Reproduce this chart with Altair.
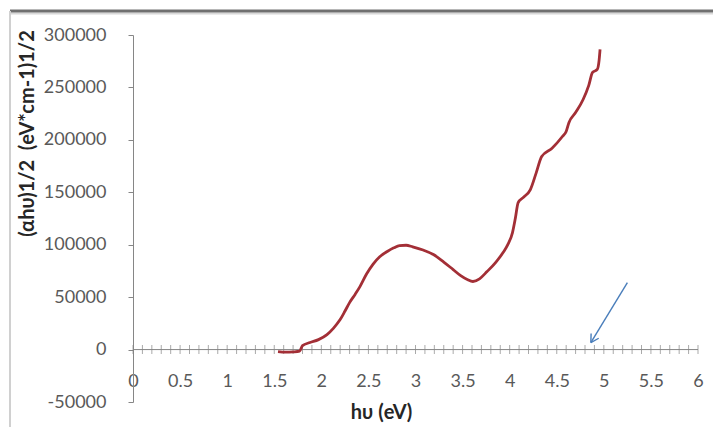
import altair as alt
import pandas as pd
import numpy as np

# Curve values
hv = [1.54, 1.62, 1.70, 1.77, 1.80, 1.88, 1.97, 2.06, 2.13, 2.20, 2.25, 2.30, 2.36, 2.41, 2.48, 2.55,
      2.62, 2.70, 2.77, 2.83, 2.90, 2.97, 3.08, 3.19, 3.30, 3.40, 3.48, 3.55, 3.61, 3.68, 3.76,
      3.85, 3.93, 3.98, 4.03, 4.06, 4.09, 4.15, 4.22, 4.28, 4.34, 4.45, 4.56, 4.60, 4.63, 4.70,
      4.78, 4.84, 4.88, 4.93, 4.95, 4.96]
ahv = [-2000, -2500, -2200, -1500, 3800, 6700, 9500, 14300, 20500, 28600, 36500, 44800, 52800, 60000,
       72000, 81500, 88500, 93500, 97000, 99200, 99500, 98000, 95000, 90600, 83500, 76300, 70500,
       66800, 64900, 67500, 74400, 83000, 92500, 100000, 111600, 125000, 140200, 145500, 152600,
       168000, 184100, 192000, 203200, 208000, 216600, 226000, 238500, 252000, 264300, 267100,
       276000, 286200]

y_ticks = [-50000, 0, 50000, 100000, 150000, 200000, 250000, 300000]
x_ticks = [0, 0.5, 1, 1.5, 2, 2.5, 3, 3.5, 4, 4.5, 5, 5.5, 6]
minor_ticks = [round(v, 1) for v in np.arange(0, 6.0001, 0.1)]

# Arrow annotation (start/end points)
arrow_x = [5.25, 4.862, 4.862]
arrow_y = [63900, 6700, 6700]
arrow_x2 = [4.862, 4.946, 4.865]
arrow_y2 = [6700, 10800, 15300]

FONT = "Lato"
GRAY = "#868686"

curve = pd.DataFrame({"hv": hv, "ahv": ahv})
ticks_df = pd.DataFrame({"x": minor_ticks, "y": [0] * len(minor_ticks)})
arrow_df = pd.DataFrame({"x": arrow_x, "y": arrow_y, "x2": arrow_x2, "y2": arrow_y2})

xscale = alt.Scale(domain=[0, 6], nice=False, zero=False)
yscale = alt.Scale(domain=[-50000, 300000], nice=False)

line = alt.Chart(curve).mark_line(color="#a32f36", strokeWidth=2.8, interpolate="monotone").encode(
    x=alt.X("hv:Q", scale=xscale,
            axis=alt.Axis(values=x_ticks, format="~g", title="hυ (eV)", grid=False, domain=False,
                          ticks=False, tickSize=0, offset=-30, labelPadding=0,
                          labelFont=FONT, labelFontSize=18, labelColor="#595959",
                          labelFlush=False, labelOverlap=False,
                          titleFont=FONT, titleFontSize=20, titleFontWeight="bold",
                          titleColor="#262626", titleX=248, titleY=40,
                          titleBaseline="middle", titleAlign="center")),
    y=alt.Y("ahv:Q", scale=yscale,
            axis=alt.Axis(values=y_ticks, format="d", title="(αhυ)1/2 \u00a0(eV*cm-1)1/2", grid=False,
                          labelExpr="replace(datum.label, '\u2212', '-')",
                          domainColor=GRAY, tickColor=GRAY, tickSize=5, labelPadding=22,
                          labelFont=FONT, labelFontSize=18, labelColor="#595959",
                          labelFlush=False, labelOverlap=False,
                          titleFont=FONT, titleFontSize=20, titleFontWeight="bold",
                          titleColor="#262626", titleAngle=270, titleX=-106, titleY=98,
                          titleAlign="center", titleBaseline="middle")),
)

zero_line = alt.Chart(pd.DataFrame({"x": [0], "x2": [6], "y": [0]})).mark_rule(
    color=GRAY, strokeWidth=1).encode(
    x=alt.X("x:Q", scale=xscale), x2="x2:Q", y=alt.Y("y:Q", scale=yscale))

tick_marks = alt.Chart(ticks_df).mark_tick(
    orient="vertical", color=GRAY, size=9, thickness=1).encode(
    x=alt.X("x:Q", scale=xscale), y=alt.Y("y:Q", scale=yscale))

arrow = alt.Chart(arrow_df).mark_rule(color="#4a7ebb", strokeWidth=1.4).encode(
    x=alt.X("x:Q", scale=xscale), y=alt.Y("y:Q", scale=yscale), x2="x2:Q", y2="y2:Q")

frame_top = alt.Chart(pd.DataFrame({"a": [0]})).mark_rule(
    color="#707070", strokeWidth=3).encode(
    x=alt.value(-123), x2=alt.value(585), y=alt.value(-24))
frame_shadow = alt.Chart(pd.DataFrame({"a": [0]})).mark_rule(
    color="#d8d8d8", strokeWidth=2).encode(
    x=alt.value(-123), x2=alt.value(585), y=alt.value(-21.5))
frame_left = alt.Chart(pd.DataFrame({"a": [0]})).mark_rule(
    color="#d0d0d0", strokeWidth=2).encode(
    x=alt.value(-123), y=alt.value(-24), y2=alt.value(395))

chart = alt.layer(frame_shadow, frame_top, frame_left, zero_line, tick_marks, line, arrow).properties(
    width=565, height=367,
    padding={"left": 133, "top": 35, "right": 15, "bottom": 25},
    autosize="none",
    background="white",
).configure_view(stroke=None)

chart.save("out.html", embed_options={"renderer": "svg", "actions": False})
